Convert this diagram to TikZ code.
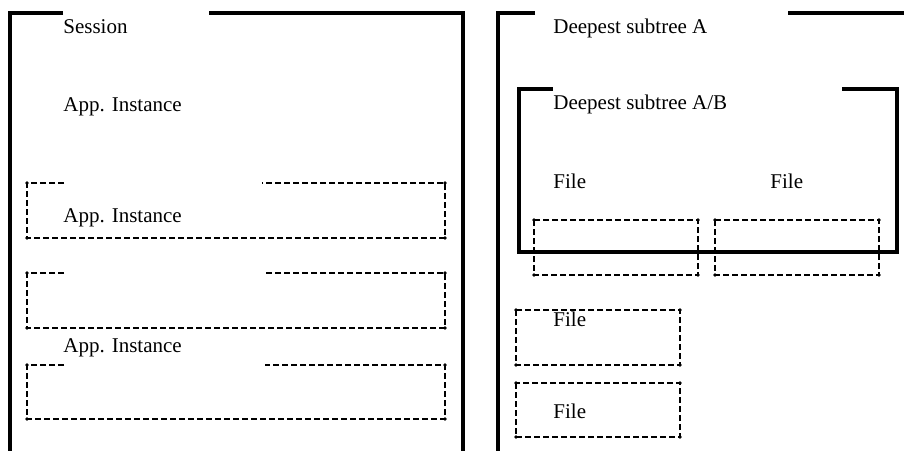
\documentclass[tikz,border=0pt]{standalone}
\usepackage{fontspec}
\setmainfont{Liberation Serif}
\tikzset{
  frame/.style={line width=1.6pt},
  part/.style={line width=1.1pt,dash pattern=on 3pt off 1.5pt},
  lbl/.style={anchor=base west,inner sep=0pt,font=\fontsize{10.5}{12}\selectfont},
}

\begin{document}
\begin{tikzpicture}[x=0.5pt,y=-0.5pt]
\useasboundingbox (0,0) rectangle (904,450);
% session
\draw[frame] (63,13) -- (10,13) -- (10,452);
\draw[frame] (209,13) -- (463,13) -- (463,452);
\node[lbl] (session) at (63,33) {Session};
\node[lbl] (app1) at (63,111) {App. Instance};
\node[lbl] (app2) at (63,222) {App. Instance};
\node[lbl] (app3) at (63,352) {App. Instance};
\foreach \t/\b/\g in {183/238/262,273/328/265,365/419/265}{
  \draw[part] (64,\t) -- (27,\t) -- (27,\b) -- (445,\b) -- (445,\t) -- (\g,\t);
  \foreach \x/\y in {27/\t,27/\b,445/\b,445/\t}
    \fill (\x,\y) circle (0.9pt);
}
% deepest subtree A
\draw[frame] (535,13) -- (498,13) -- (498,452);
\draw[frame] (788,13) -- (906,13);
\node[lbl] (treeA) at (553,33) {Deepest subtree A};
% deepest subtree A/B
\draw[frame] (553,89) -- (519,89) -- (519,252) -- (897,252) -- (897,89) -- (842,89);
\node[lbl] (treeAB) at (553,109) {Deepest subtree A/B};
\node[lbl] (file1) at (553,188) {File};
\node[lbl] (file2) at (770,188) {File};
\node[lbl] (file3) at (553,326) {File};
\node[lbl] (file4) at (553,418) {File};
\foreach \l/\t/\r/\b in {534/220/698/275,715/220/879/275,516/310/680/365,516/383/680/437}{
  \draw[part] (\l,\t) rectangle (\r,\b);
  \foreach \x/\y in {\l/\t,\l/\b,\r/\b,\r/\t}
    \fill (\x,\y) circle (0.9pt);
}
\end{tikzpicture}
\end{document}
